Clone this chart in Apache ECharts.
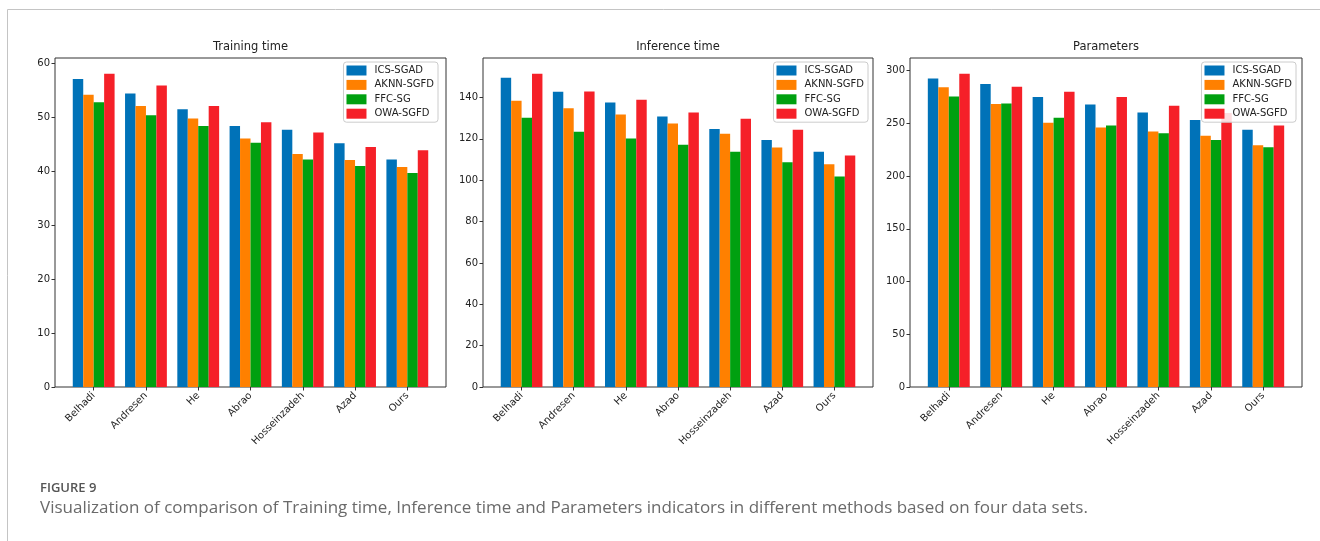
<!DOCTYPE html>
<html>
<head>
<meta charset="utf-8">
<script src="https://cdn.jsdelivr.net/npm/echarts@6/dist/echarts.min.js"></script>
<style>
html,body{margin:0;padding:0;background:#fff;}
#chart{width:1320px;height:541px;}
</style>
</head>
<body>
<div id="chart"></div>
<script>
// ---- data ----
const categories = ['Belhadi', 'Andresen', 'He', 'Abrao', 'Hosseinzadeh', 'Azad', 'Ours'];
const methods = ['ICS-SGAD', 'AKNN-SGFD', 'FFC-SG', 'OWA-SGFD'];

const trainICS  = [57.1, 54.4, 51.5, 48.4, 47.7, 45.2, 42.2];
const trainAKNN = [54.2, 52.1, 49.8, 46.1, 43.2, 42.1, 40.8];
const trainFFC  = [52.8, 50.4, 48.4, 45.3, 42.2, 41.0, 39.7];
const trainOWA  = [58.1, 55.9, 52.1, 49.1, 47.2, 44.5, 43.9];

const infICS  = [149.5, 142.7, 137.6, 130.8, 124.7, 119.4, 113.7];
const infAKNN = [138.4, 134.8, 131.8, 127.4, 122.4, 115.8, 107.7];
const infFFC  = [130.2, 123.4, 120.2, 117.1, 113.7, 108.7, 101.8];
const infOWA  = [151.5, 142.9, 138.9, 132.7, 129.7, 124.4, 111.9];

const parICS  = [292.7, 287.3, 275.0, 268.0, 260.4, 253.2, 244.0];
const parAKNN = [284.2, 268.4, 250.6, 246.2, 242.4, 238.3, 229.4];
const parFFC  = [275.6, 269.0, 255.4, 248.1, 240.8, 234.2, 227.5];
const parOWA  = [297.2, 284.8, 280.1, 275.0, 266.8, 259.8, 248.1];

const trainTicks = [0, 10, 20, 30, 40, 50, 60];
const infTicks = [0, 20, 40, 60, 80, 100, 120, 140];
const parTicks = [0, 50, 100, 150, 200, 250, 300];

const panelTitles = ['Training time', 'Inference time', 'Parameters'];
const figureLabel = 'FIGURE 9';
const captionText = 'Visualization of comparison of Training time, Inference time and Parameters indicators in different methods based on four data sets.';

// ---- styling / layout ----
const colors = ['#0072b8', '#ff8000', '#00a010', '#f52028'];
const font = 'DejaVu Sans';
const panels = [
  {L: 55, R: 446, data: [trainICS, trainAKNN, trainFFC, trainOWA], ticks: trainTicks, legendRight: 882},
  {L: 483, R: 873, data: [infICS, infAKNN, infFFC, infOWA], ticks: infTicks, legendRight: 452},
  {L: 910, R: 1302, data: [parICS, parAKNN, parFFC, parOWA], ticks: parTicks, legendRight: 24}
];
const TOP = 58, BOTTOM = 387;
const H = BOTTOM - TOP;
const n = categories.length;

const grid = [], xAxis = [], yAxis = [], series = [], legend = [], graphic = [];

panels.forEach((p, k) => {
  const W = p.R - p.L;
  const u = W / (n - 1 + 0.4 * 2 + (n - 1 + 0.8) * 0.1); // matplotlib 5% margins
  const innerLeft = p.L + (0.74 - 0.5) * u;
  const innerWidth = n * u;
  let maxVal = 0;
  p.data.forEach(arr => arr.forEach(v => { if (v > maxVal) maxVal = v; }));
  const yMax = maxVal * 1.05;

  // outer frame grid (spines + y axis)
  grid.push({left: p.L, top: TOP, width: W, height: H, show: true, borderColor: '#333', borderWidth: 1, backgroundColor: 'transparent'});
  // inner grid (bars + category axis)
  grid.push({left: innerLeft, top: TOP, width: innerWidth, height: H, show: false});

  const gOuter = 2 * k, gInner = 2 * k + 1;
  xAxis.push({gridIndex: gOuter, type: 'value', min: 0, max: 1, show: false});
  xAxis.push({
    gridIndex: gInner, type: 'category', data: categories, boundaryGap: true,
    axisLine: {show: false},
    axisTick: {show: true, alignWithLabel: true, length: 3.5, lineStyle: {color: '#333', width: 1}},
    axisLabel: {rotate: 45, margin: 7, fontFamily: font, fontSize: 10, color: '#222', interval: 0},
    splitLine: {show: false}
  });
  const tickSet = p.ticks;
  yAxis.push({
    gridIndex: gOuter, type: 'value', min: 0, max: yMax,
    axisLine: {show: false},
    axisTick: {show: true, length: 3.5, lineStyle: {color: '#333', width: 1}, customValues: tickSet},
    axisLabel: {fontFamily: font, fontSize: 10, color: '#222', margin: 5, customValues: tickSet,
      formatter: v => (tickSet.indexOf(v) >= 0 ? String(v) : '')},
    splitLine: {show: false}
  });
  yAxis.push({gridIndex: gInner, type: 'value', min: 0, max: yMax, show: false});

  methods.forEach((m, i) => {
    series.push({
      type: 'bar', name: m, xAxisIndex: 2 * k + 1, yAxisIndex: 2 * k + 1,
      data: p.data[i], barGap: '0%', barCategoryGap: '20%',
      itemStyle: {color: colors[i]}, emphasis: {disabled: true}, animation: false
    });
  });

  legend.push({
    orient: 'vertical', right: p.legendRight, top: 62,
    data: methods, itemWidth: 20, itemHeight: 10, itemGap: 3.4,
    padding: [3, 4, 3, 3],
    backgroundColor: 'rgba(255,255,255,0.85)', borderColor: '#cccccc', borderWidth: 1, borderRadius: 3,
    textStyle: {fontFamily: font, fontSize: 10, color: '#222', lineHeight: 11, padding: [0, 0, 0, 3]},
    icon: 'rect', selectedMode: false
  });

  graphic.push({
    type: 'text', x: (p.L + p.R) / 2, y: 47, silent: true,
    style: {text: panelTitles[k], align: 'center', verticalAlign: 'middle', fontFamily: font, fontSize: 11.5, fill: '#222'}
  });
});

// frame lines
graphic.push({type: 'polyline', silent: true, shape: {points: [[7.5, 541], [7.5, 9.5], [1320, 9.5]]}, style: {stroke: '#c4c4c4', lineWidth: 1, fill: null}});
graphic.push({type: 'text', x: 40, y: 488, silent: true,
  style: {text: figureLabel, verticalAlign: 'middle', fontFamily: 'Open Sans', fontSize: 13, fontWeight: 600, fill: '#555'}});
graphic.push({type: 'text', x: 40, y: 508, silent: true,
  style: {text: captionText, verticalAlign: 'middle', fontFamily: 'Open Sans', fontSize: 17, fill: '#6a6a6a'}});

const chart = echarts.init(document.getElementById('chart'), null, {renderer: 'canvas'});
chart.setOption({
  animation: false,
  backgroundColor: '#fff',
  grid, xAxis, yAxis, series, legend, graphic
});
</script>
</body>
</html>
